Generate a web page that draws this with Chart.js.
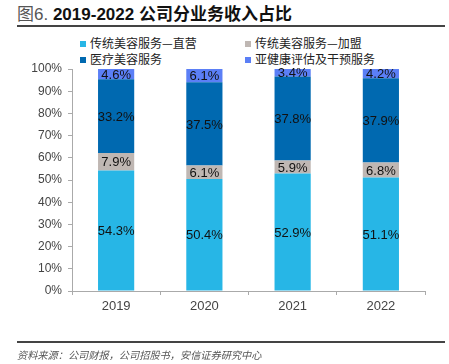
<!DOCTYPE html>
<html><head><meta charset="utf-8">
<script src="https://cdn.jsdelivr.net/npm/chart.js@4"></script>
<style>
body{margin:0;width:449px;height:364px;background:#fff;position:relative;overflow:hidden;font-family:"Liberation Sans",Arial,"Noto Sans CJK SC",sans-serif;}
#c{position:absolute;left:0;top:0;}
.title{position:absolute;left:17px;top:5px;font-size:17px;line-height:20px;white-space:nowrap;}
.title .pre{color:#555;font-family:"Liberation Sans","Noto Sans CJK SC";}
.title .main{color:#111;font-weight:bold;font-family:"Liberation Sans","Noto Sans CJK SC";}
.hr{position:absolute;left:17px;width:428px;height:1.5px;background:#444;}
.leg{position:absolute;font-family:"Noto Sans CJK SC";font-size:12px;color:#222;white-space:nowrap;line-height:14px;}
.leg i{display:inline-block;width:6px;height:6px;margin-right:4px;vertical-align:1px;}
.src{position:absolute;left:17px;top:347px;font-family:"Noto Sans CJK SC";font-style:italic;font-size:10.2px;color:#555;white-space:nowrap;}
</style></head>
<body>
<div class="title"><span class="pre">图6. </span><span class="main">2019-2022 公司分业务收入占比</span></div>
<div class="hr" style="top:25px"></div>
<div id="legend"></div>
<canvas id="c" width="449" height="364"></canvas>
<div class="hr" style="top:341px"></div>
<div class="src">资料来源：公司财报，公司招股书，安信证券研究中心</div>
<script>
const categories = ["2019","2020","2021","2022"];
const seriesNames = ["传统美容服务—直营","传统美容服务—加盟","医疗美容服务","亚健康评估及干预服务"];
const direct = [54.3, 50.4, 52.9, 51.1];
const franchise = [7.9, 6.1, 5.9, 6.8];
const medical = [33.2, 37.5, 37.8, 37.9];
const subHealth = [4.6, 6.1, 3.4, 4.2];
const yTicks = [0,10,20,30,40,50,60,70,80,90,100];
const colors = ["#27B6E6","#BFB7B3","#0069B0","#5B7FF6"];

const legendPos = [[80,36],[245,36],[80,52],[245,52]];
const lg = document.getElementById('legend');
seriesNames.forEach((n,i)=>{
  const d=document.createElement('div');d.className='leg';
  d.style.left=legendPos[i][0]+'px';d.style.top=legendPos[i][1]+'px';
  d.innerHTML='<i style="background:'+colors[i]+'"></i>'+n;
  lg.appendChild(d);
});

const labelPlugin = {
  id:'lbl',
  afterDatasetsDraw(chart){
    const ctx=chart.ctx;
    ctx.save();
    ctx.font='13px "Liberation Sans", Arial';
    ctx.fillStyle='#111';
    ctx.textAlign='center';ctx.textBaseline='middle';
    chart.data.datasets.forEach((ds,di)=>{
      chart.getDatasetMeta(di).data.forEach((el,i)=>{
        const v=ds.data[i];
        const y=(el.y+el.base)/2;
        ctx.fillText(v.toFixed(1)+'%', el.x, y+1);
      });
    });
    ctx.restore();
  }
};

const datasets=[direct,franchise,medical,subHealth].map((d,i)=>({
  label:seriesNames[i],data:d,backgroundColor:colors[i],borderWidth:0,
  barPercentage:0.41,categoryPercentage:1
}));

new Chart(document.getElementById('c'),{
  type:'bar',
  data:{labels:categories,datasets},
  options:{
    responsive:false,animation:false,
    layout:{padding:{left:0,right:24,top:69,bottom:0}},
    plugins:{legend:{display:false},tooltip:{enabled:false}},
    scales:{
      x:{stacked:true,
        grid:{drawOnChartArea:false,drawTicks:true,tickLength:4,color:'#aaa',offset:true},
        border:{color:'#aaa',width:1},
        ticks:{color:'#444',font:{size:13,family:'"Liberation Sans", Arial'},padding:4},
        afterFit(s){s.height=73;}
      },
      y:{stacked:true,min:0,max:100,
        afterBuildTicks(s){s.ticks=yTicks.map(v=>({value:v}));},
        grid:{drawOnChartArea:false,drawTicks:true,tickLength:4,color:'#aaa'},
        border:{color:'#aaa',width:1},
        ticks:{color:'#444',font:{size:12,family:'"Liberation Sans", Arial'},padding:6,callback:v=>v+'%'},
        afterFit(s){s.width=72;}
      }
    }
  },
  plugins:[labelPlugin]
});
</script>
</body></html>
